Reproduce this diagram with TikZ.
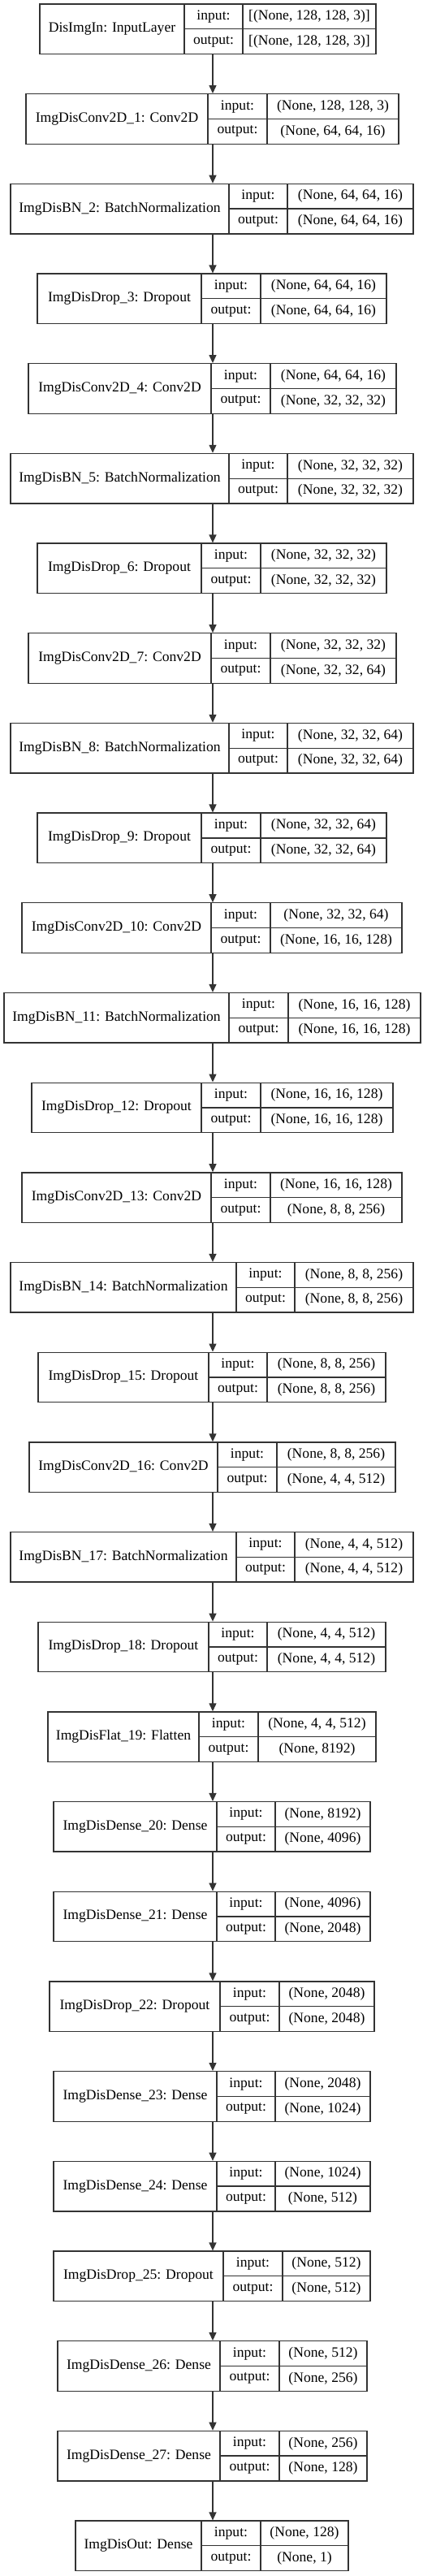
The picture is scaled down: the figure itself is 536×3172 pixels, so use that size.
\documentclass[tikz,border=0pt]{standalone}
\usepackage{fontspec}
\setmainfont{Liberation Serif}
\usepackage{tikz}
\usetikzlibrary{arrows.meta, positioning, calc}

\begin{document}
\begin{tikzpicture}[x=1pt, y=1pt, font=\fontsize{17.6}{20}\selectfont,
  cell/.style={rectangle, draw=black!80, line width=1.3pt, inner sep=0pt, align=center},
  ed/.style={-{Triangle[length=10pt, width=9pt]}, line width=1.3pt, black!80}]
\useasboundingbox (0,0) rectangle (536,-3172);
\coordinate (ax) at (262,0);
% one row per layer: name / input shape / output shape / left / split 1 / split 2 / right
\foreach \i/\nm/\vin/\vout/\xl/\xa/\xb/\xr in {
  0/{DisImgIn: InputLayer}/{[(None, 128, 128, 3)]}/{[(None, 128, 128, 3)]}/49/227/299/463,
  1/{ImgDisConv2D\_1: Conv2D}/{(None, 128, 128, 3)}/{(None, 64, 64, 16)}/32/256/329/491,
  2/{ImgDisBN\_2: BatchNormalization}/{(None, 64, 64, 16)}/{(None, 64, 64, 16)}/13/282/354/509,
  3/{ImgDisDrop\_3: Dropout}/{(None, 64, 64, 16)}/{(None, 64, 64, 16)}/46/248/321/476,
  4/{ImgDisConv2D\_4: Conv2D}/{(None, 64, 64, 16)}/{(None, 32, 32, 32)}/35/260/333/488,
  5/{ImgDisBN\_5: BatchNormalization}/{(None, 32, 32, 32)}/{(None, 32, 32, 32)}/13/282/354/509,
  6/{ImgDisDrop\_6: Dropout}/{(None, 32, 32, 32)}/{(None, 32, 32, 32)}/46/248/321/476,
  7/{ImgDisConv2D\_7: Conv2D}/{(None, 32, 32, 32)}/{(None, 32, 32, 64)}/35/260/333/488,
  8/{ImgDisBN\_8: BatchNormalization}/{(None, 32, 32, 64)}/{(None, 32, 32, 64)}/13/282/354/509,
  9/{ImgDisDrop\_9: Dropout}/{(None, 32, 32, 64)}/{(None, 32, 32, 64)}/46/248/321/476,
  10/{ImgDisConv2D\_10: Conv2D}/{(None, 32, 32, 64)}/{(None, 16, 16, 128)}/27/260/333/495,
  11/{ImgDisBN\_11: BatchNormalization}/{(None, 16, 16, 128)}/{(None, 16, 16, 128)}/5/282/355/518,
  12/{ImgDisDrop\_12: Dropout}/{(None, 16, 16, 128)}/{(None, 16, 16, 128)}/39/248/321/484,
  13/{ImgDisConv2D\_13: Conv2D}/{(None, 16, 16, 128)}/{(None, 8, 8, 256)}/27/260/333/495,
  14/{ImgDisBN\_14: BatchNormalization}/{(None, 8, 8, 256)}/{(None, 8, 8, 256)}/13/291/363/509,
  15/{ImgDisDrop\_15: Dropout}/{(None, 8, 8, 256)}/{(None, 8, 8, 256)}/47/257/329/475,
  16/{ImgDisConv2D\_16: Conv2D}/{(None, 8, 8, 256)}/{(None, 4, 4, 512)}/36/268/341/487,
  17/{ImgDisBN\_17: BatchNormalization}/{(None, 4, 4, 512)}/{(None, 4, 4, 512)}/13/291/363/509,
  18/{ImgDisDrop\_18: Dropout}/{(None, 4, 4, 512)}/{(None, 4, 4, 512)}/47/257/329/475,
  19/{ImgDisFlat\_19: Flatten}/{(None, 4, 4, 512)}/{(None, 8192)}/59/245/318/463,
  20/{ImgDisDense\_20: Dense}/{(None, 8192)}/{(None, 4096)}/66/267/339/456,
  21/{ImgDisDense\_21: Dense}/{(None, 4096)}/{(None, 2048)}/66/267/339/456,
  22/{ImgDisDrop\_22: Dropout}/{(None, 2048)}/{(None, 2048)}/61/271/344/461,
  23/{ImgDisDense\_23: Dense}/{(None, 2048)}/{(None, 1024)}/66/267/339/456,
  24/{ImgDisDense\_24: Dense}/{(None, 1024)}/{(None, 512)}/66/267/339/456,
  25/{ImgDisDrop\_25: Dropout}/{(None, 512)}/{(None, 512)}/66/275/348/456,
  26/{ImgDisDense\_26: Dense}/{(None, 512)}/{(None, 256)}/71/271/344/452,
  27/{ImgDisDense\_27: Dense}/{(None, 256)}/{(None, 128)}/71/271/344/452,
  28/{ImgDisOut: Dense}/{(None, 128)}/{(None, 1)}/93/248/321/429}{
  \pgfmathsetmacro\ym{-5-110.68*\i-30.75}
  \node[cell, minimum width={(\xa-\xl)*1pt}, minimum height=61.5pt] (n\i) at ({(\xl+\xa)/2},\ym) {\nm};
  \node[cell, minimum width={(\xb-\xa)*1pt}, minimum height=30.75pt] (pi\i) at ({(\xa+\xb)/2},\ym+15.375) {input:};
  \node[cell, minimum width={(\xb-\xa)*1pt}, minimum height=30.75pt] (po\i) at ({(\xa+\xb)/2},\ym-15.375) {output:};
  \node[cell, minimum width={(\xr-\xb)*1pt}, minimum height=30.75pt] (vi\i) at ({(\xb+\xr)/2},\ym+15.375) {\vin};
  \node[cell, minimum width={(\xr-\xb)*1pt}, minimum height=30.75pt] (vo\i) at ({(\xb+\xr)/2},\ym-15.375) {\vout};
}
\foreach \i [evaluate=\i as \j using int(\i+1)] in {0,...,27}
  \draw[ed] (n\i.south -| ax) -- (n\j.north -| ax);
\end{tikzpicture}
\end{document}
